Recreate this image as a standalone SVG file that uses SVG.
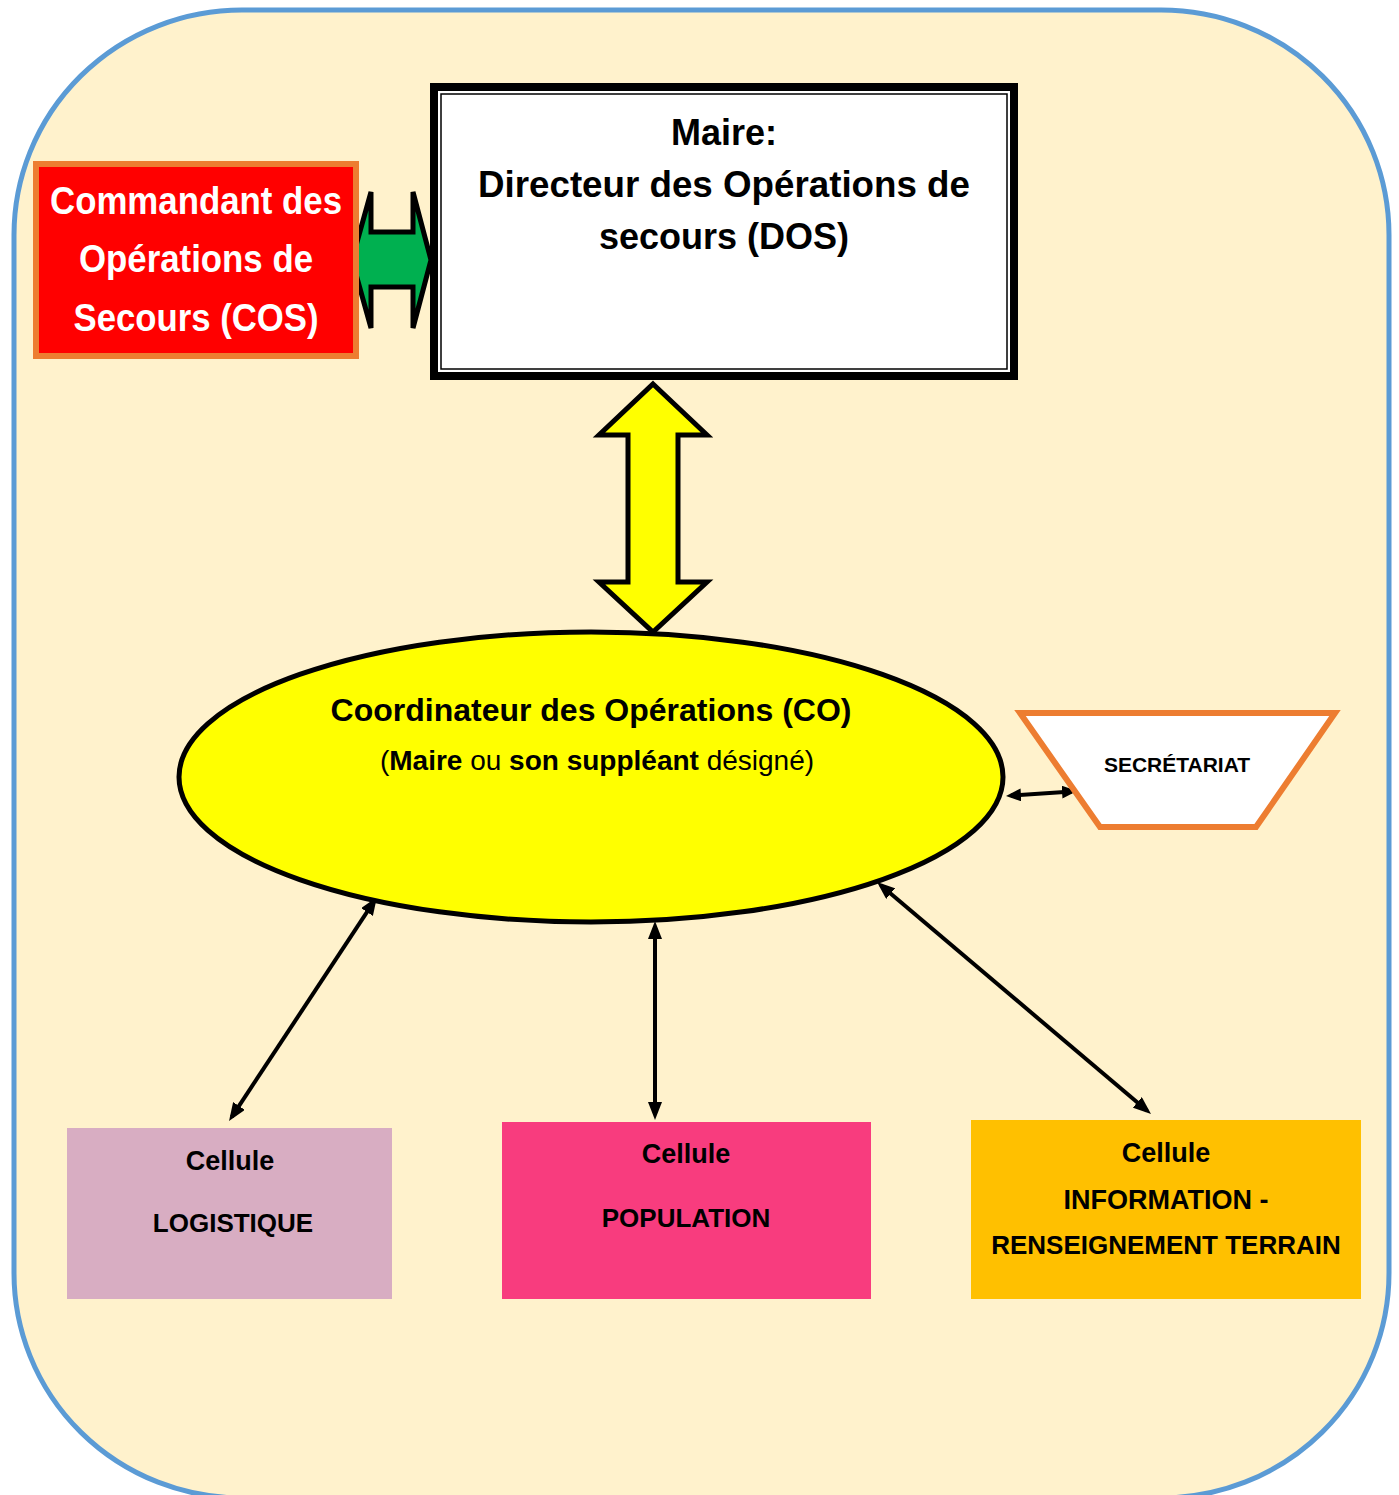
<svg xmlns="http://www.w3.org/2000/svg" width="1399" height="1495" viewBox="0 0 1399 1495">
<style>
  .t { font-family: "Liberation Sans", Arial, sans-serif; font-weight: bold; fill: #000; text-anchor: middle; }
  .reg { font-weight: normal; }
  .cos { font-family: "Liberation Sans Narrow", "Liberation Sans", Arial, sans-serif; font-weight: bold; fill: #fff; text-anchor: middle; font-size: 39px; }
  .conn { stroke: #000; stroke-width: 4; fill: none; }
</style>
<defs>
  <marker id="ah" viewBox="0 0 18 14" refX="13" refY="7" markerWidth="18" markerHeight="14" markerUnits="userSpaceOnUse" orient="auto-start-reverse">
    <path d="M0,0 L18,7 L0,14 z" fill="#000"/>
  </marker>
  <marker id="ahs" viewBox="0 0 15 13" refX="10" refY="6.5" markerWidth="15" markerHeight="13" markerUnits="userSpaceOnUse" orient="auto-start-reverse">
    <path d="M0,0 L15,6.5 L0,13 z" fill="#000"/>
  </marker>
</defs>

<g id="background">
  <rect x="14" y="10" width="1375" height="1488" rx="228" ry="225" fill="#FFF2CC" stroke="#5B9BD5" stroke-width="5"/>
</g>

<g id="connectors">
  <polygon points="352,260 371,192 371,232 413,232 413,192 431,260 413,328 413,287 371,287 371,328" fill="#00B050" stroke="#000" stroke-width="5" stroke-linejoin="miter"/>
  <polygon points="653,384 707,435 678,435 678,582 707,582 653,632 599,582 628,582 628,435 599,435" fill="#FFFF00" stroke="#000" stroke-width="5"/>
  <line class="conn" x1="374.2" y1="901.2" x2="231.8" y2="1116.8" marker-start="url(#ah)" marker-end="url(#ah)"/>
  <line class="conn" x1="655" y1="926" x2="655" y2="1115" marker-start="url(#ah)" marker-end="url(#ah)"/>
  <line class="conn" x1="880.8" y1="885.2" x2="1147.2" y2="1110.8" marker-start="url(#ah)" marker-end="url(#ah)"/>
  <line class="conn" stroke-width="3" x1="1011" y1="795.6" x2="1072" y2="791.4" marker-start="url(#ahs)" marker-end="url(#ahs)"/>
</g>

<g id="cos">
  <rect x="36" y="164" width="320" height="192" fill="#FF0000" stroke="#ED7D31" stroke-width="6"/>
  <text class="cos" x="196" y="214" textLength="292" lengthAdjust="spacingAndGlyphs">Commandant des</text>
  <text class="cos" x="196" y="272" textLength="234" lengthAdjust="spacingAndGlyphs">Opérations de</text>
  <text class="cos" x="196" y="331" textLength="245" lengthAdjust="spacingAndGlyphs">Secours (COS)</text>
</g>

<g id="dos">
  <rect x="434" y="87" width="580" height="289" fill="#fff" stroke="#000" stroke-width="8"/>
  <rect x="441" y="94" width="566" height="275" fill="none" stroke="#000" stroke-width="1.5"/>
  <text class="t" x="724" y="145" font-size="36">Maire:</text>
  <text class="t" x="724" y="197" font-size="36" textLength="492" lengthAdjust="spacingAndGlyphs">Directeur des Opérations de</text>
  <text class="t" x="724" y="249" font-size="36">secours (DOS)</text>
</g>

<g id="co">
  <ellipse cx="591" cy="777" rx="412" ry="145" fill="#FFFF00" stroke="#000" stroke-width="5"/>
  <text class="t" x="591" y="721" font-size="32">Coordinateur des Opérations (CO)</text>
  <text class="t" x="597" y="770" font-size="28"><tspan class="reg">(</tspan>Maire<tspan class="reg"> ou </tspan>son suppléant<tspan class="reg"> désigné)</tspan></text>
</g>

<g id="secretariat">
  <polygon points="1020,713 1335,713 1256,827 1100,827" fill="#fff" stroke="#ED7D31" stroke-width="6"/>
  <text class="t" x="1177" y="772" font-size="21">SECRÉTARIAT</text>
</g>

<g id="logistique">
  <rect x="67" y="1128" width="325" height="171" fill="#D8ADC2"/>
  <text class="t" x="230" y="1170" font-size="27">Cellule</text>
  <text class="t" x="233" y="1232" font-size="26">LOGISTIQUE</text>
</g>

<g id="population">
  <rect x="502" y="1122" width="369" height="177" fill="#F83C7E"/>
  <text class="t" x="686" y="1163" font-size="27">Cellule</text>
  <text class="t" x="686" y="1227" font-size="26">POPULATION</text>
</g>

<g id="information">
  <rect x="971" y="1120" width="390" height="179" fill="#FFC000"/>
  <text class="t" x="1166" y="1162" font-size="27">Cellule</text>
  <text class="t" x="1166" y="1209" font-size="27">INFORMATION -</text>
  <text class="t" x="1166" y="1254" font-size="26">RENSEIGNEMENT TERRAIN</text>
</g>
</svg>
